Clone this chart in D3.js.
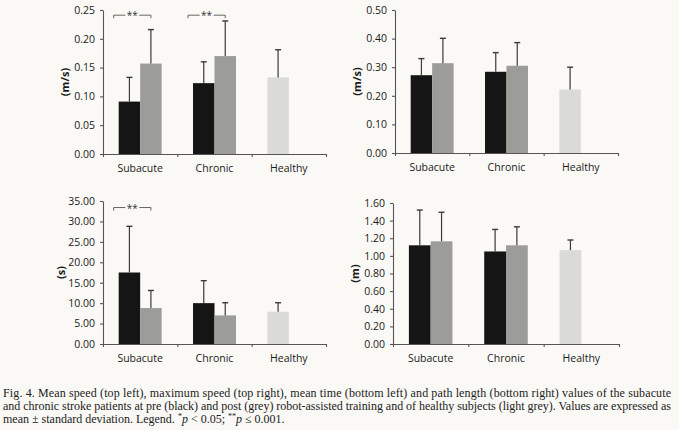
<!DOCTYPE html>
<html>
<head>
<meta charset="utf-8">
<script src="https://cdn.jsdelivr.net/npm/d3@7"></script>
<style>
  body { margin: 0; background: #faf9f5; }
  svg { display: block; }
</style>
</head>
<body>
<div id="chart-area"></div>
<script>
// categories and bar order (pre / post per patient group, then healthy)
const groups = ["Subacute", "Chronic", "Healthy"];
const barGroup = ["Subacute", "Subacute", "Chronic", "Chronic", "Healthy"];
const barPhase = ["pre", "post", "pre", "post", "healthy"];

// mean speed (m/s)
const meanSpeed = [0.091, 0.157, 0.123, 0.170, 0.133];
const meanSpeedSD = [0.042, 0.059, 0.037, 0.061, 0.048];
// maximum speed (m/s)
const maxSpeed = [0.272, 0.314, 0.284, 0.305, 0.222];
const maxSpeedSD = [0.058, 0.087, 0.067, 0.081, 0.078];
// mean time (s)
const meanTime = [17.5, 8.8, 10.0, 7.0, 7.9];
const meanTimeSD = [11.3, 4.3, 5.5, 3.1, 2.2];
// path length (m)
const pathLength = [1.12, 1.165, 1.05, 1.12, 1.065];
const pathLengthSD = [0.40, 0.33, 0.25, 0.21, 0.115];

// significance brackets: [group, y value]
const speedSig = [["Subacute", 0.241], ["Chronic", 0.241]];
const timeSig = [["Subacute", 33.4]];

const captionLines = [
    "Fig. 4. Mean speed (top left), maximum speed (top right), mean time (bottom left) and path length (bottom right) values of the subacute",
    "and chronic stroke patients at pre (black) and post (grey) robot-assisted training and of healthy subjects (light grey). Values are expressed as"
];

const colors = { pre: "#151515", post: "#9c9c99", healthy: "#dadad6" };

const svg = d3.select("#chart-area").append("svg")
    .attr("width", 679)
    .attr("height", 430);

drawPanel(svg, { x0: 103, x1: 326, top: 10, bottom: 154, max: 0.25, step: 0.05,
    label: "(m/s)", labelX: 65, mean: meanSpeed, sd: meanSpeedSD, sig: speedSig });
drawPanel(svg, { x0: 395, x1: 618, top: 10, bottom: 153, max: 0.5, step: 0.1,
    label: "(m/s)", labelX: 357, mean: maxSpeed, sd: maxSpeedSD, sig: [] });
drawPanel(svg, { x0: 103, x1: 326, top: 201, bottom: 344, max: 35, step: 5,
    label: "(s)", labelX: 61, mean: meanTime, sd: meanTimeSD, sig: timeSig });
drawPanel(svg, { x0: 393, x1: 619, top: 203, bottom: 344, max: 1.6, step: 0.2,
    label: "(m)", labelX: 355, mean: pathLength, sd: pathLengthSD, sig: [] });

drawCaption(svg);


function drawPanel(svg, p) {
    const g = svg.append("g");

    const y = d3.scaleLinear()
        .domain([0, p.max])
        .range([p.bottom, p.top]);

    const x = d3.scaleBand()
        .domain(groups)
        .range([p.x0, p.x1]);

    const inner = d3.scaleBand()
        .domain(["pre", "post"])
        .range([0, x.bandwidth()])
        .paddingOuter(0.73);

    const nTicks = Math.round(p.max / p.step);
    const yAxisCall = d3.axisLeft(y)
        .tickValues(d3.range(0, nTicks + 1).map(i => i * p.step))
        .tickFormat(d3.format(".2f"))
        .tickSize(3)
        .tickSizeOuter(0);

    const yAxis = g.append("g")
        .attr("transform", `translate(${p.x0}, 0)`)
        .call(yAxisCall);
    yAxis.selectAll("text")
        .attr("x", -8)
        .style("font-family", "'Open Sans', sans-serif")
        .style("font-size", "10.5px")
        .attr("fill", "#1a1a1a");

    const xb = d3.scaleLinear().domain([0, groups.length]).range([p.x0, p.x1]);
    const xAxisCall = d3.axisBottom(xb)
        .ticks(groups.length)
        .tickFormat("")
        .tickSize(3)
        .tickSizeOuter(0);
    g.append("g")
        .attr("transform", `translate(0, ${p.bottom})`)
        .call(xAxisCall);

    g.selectAll(".domain, .tick line")
        .attr("stroke", "#555")
        .attr("stroke-width", 1.1);

    const bars = p.mean.map((m, i) => ({
        group: barGroup[i],
        phase: barPhase[i],
        mean: m,
        sd: p.sd[i]
    }));
    const barX = d => x(d.group) + inner(d.phase === "post" ? "post" : "pre");

    g.selectAll(".bar").data(bars).join("rect")
        .attr("class", "bar")
        .attr("x", barX)
        .attr("y", d => y(d.mean))
        .attr("width", inner.bandwidth())
        .attr("height", d => p.bottom - y(d.mean))
        .attr("fill", d => colors[d.phase]);

    // error bars (upper only)
    const cx = d => barX(d) + inner.bandwidth() / 2;
    g.selectAll(".err").data(bars).join("line")
        .attr("x1", cx).attr("x2", cx)
        .attr("y1", d => y(d.mean))
        .attr("y2", d => y(d.mean + d.sd))
        .attr("stroke", "#3a3a3a")
        .attr("stroke-width", 1.2);
    g.selectAll(".cap").data(bars).join("line")
        .attr("x1", d => cx(d) - 3).attr("x2", d => cx(d) + 3)
        .attr("y1", d => y(d.mean + d.sd))
        .attr("y2", d => y(d.mean + d.sd))
        .attr("stroke", "#3a3a3a")
        .attr("stroke-width", 1.4);

    // significance brackets
    p.sig.forEach(([grp, val]) => {
        const xl = x(grp) + inner("pre") - 5;
        const xr = x(grp) + inner("post") + inner.bandwidth() / 2;
        const yy = y(val);
        const xm = (xl + xr) / 2;
        const path = d3.path();
        path.moveTo(xl, yy + 3); path.lineTo(xl, yy); path.lineTo(xm - 7, yy);
        path.moveTo(xm + 7, yy); path.lineTo(xr, yy); path.lineTo(xr, yy + 3);
        g.append("path")
            .attr("d", path.toString())
            .attr("fill", "none")
            .attr("stroke", "#666")
            .attr("stroke-width", 1);
        g.append("text")
            .attr("x", xm)
            .attr("y", yy + 4)
            .attr("text-anchor", "middle")
            .style("font-family", "'Open Sans', sans-serif")
            .style("font-size", "10px")
            .attr("fill", "#333")
            .text("**");
    });

    // category labels
    g.selectAll(".cat").data(groups).join("text")
        .attr("x", d => x(d) + x.bandwidth() / 2)
        .attr("y", p.bottom + 18)
        .attr("text-anchor", "middle")
        .style("font-family", "'Open Sans', sans-serif")
        .style("font-size", "10.5px")
        .attr("fill", "#1a1a1a")
        .text(d => d);

    g.append("text")
        .attr("transform", `translate(${p.labelX}, ${(p.top + p.bottom) / 2}) rotate(-90)`)
        .attr("text-anchor", "middle")
        .attr("dy", "0.35em")
        .style("font-family", "'Open Sans', sans-serif")
        .style("font-size", "11px")
        .style("font-weight", "bold")
        .attr("fill", "#1a1a1a")
        .text(p.label);
}

function drawCaption(svg) {
    const serif = "'Liberation Serif', 'DejaVu Serif', serif";

    captionLines.forEach((line, i) => {
        svg.append("text")
            .attr("x", 3)
            .attr("y", 397 + i * 13)
            .attr("textLength", 668)
            .attr("lengthAdjust", "spacing")
            .style("font-family", serif)
            .style("font-size", "12px")
            .attr("fill", "#222")
            .text(line);
    });

    const last = svg.append("text")
        .attr("x", 3)
        .attr("y", 423)
        .style("font-family", serif)
        .style("font-size", "12px")
        .attr("fill", "#222");
    last.append("tspan").text("mean \u00b1 standard deviation. Legend. ");
    last.append("tspan").attr("dy", -4).style("font-size", "8px").text("*");
    last.append("tspan").attr("dy", 4).style("font-style", "italic").text("p");
    last.append("tspan").text(" < 0.05; ");
    last.append("tspan").attr("dy", -4).style("font-size", "8px").text("**");
    last.append("tspan").attr("dy", 4).style("font-style", "italic").text("p");
    last.append("tspan").text(" \u2264 0.001.");
}
</script>
</body>
</html>
